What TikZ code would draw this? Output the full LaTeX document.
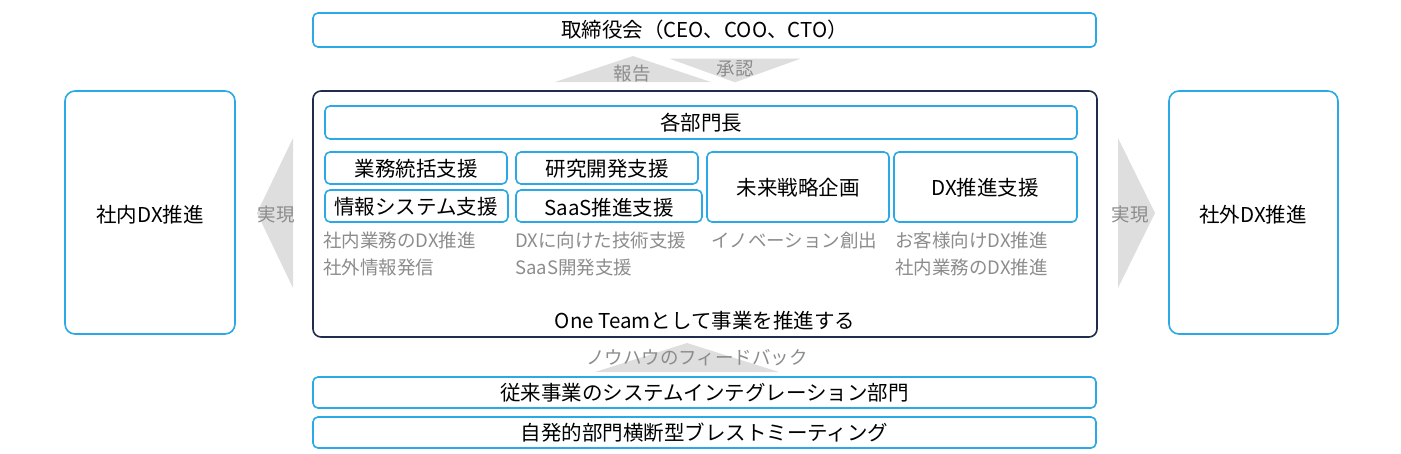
\documentclass[tikz,border=0pt]{standalone}
\usepackage{fontspec}
\setmainfont{Noto Sans CJK JP}
\definecolor{cy}{HTML}{2AA9E6}
\definecolor{nv}{HTML}{1F2D4A}
\begin{document}
\begin{tikzpicture}[x=1pt,y=-1pt,
 cb/.style={draw=cy, line width=1.6pt, rounded corners=5pt, fill=white},
 nb/.style={draw=nv, line width=1.6pt, rounded corners=8pt},
 tx/.style={font=\fontsize{20.5}{24}\selectfont, text=black},
 gl/.style={font=\fontsize{18.5}{22}\selectfont, text=black!45},
 gt/.style={font=\fontsize{18.5}{27}\selectfont, text=black!45, align=left, anchor=north west, inner sep=0pt},
 arr/.style={fill=black!13, draw=none}]
\useasboundingbox (0,0) rectangle (1401,453);
% top
\draw[cb] (313,13) rectangle (1096,47);
\node[tx] (top) at (704.5,30) {取締役会（CEO、COO、CTO）};
\fill[arr] (555,82) -- (633,56) -- (711,82) -- cycle;
\filldraw[arr, draw=white, line width=3pt] (660,57) -- (810,57) -- (735,84) -- cycle;
\node[gl] (rep) at (632,74) {報告};
\node[gl] (app) at (735,69) {承認};
% main
\draw[nb] (313,91) rectangle (1097,337);
\draw[cb] (325,106) rectangle (1077,139);
\node[tx] (heads) at (701,123) {各部門長};
\draw[cb] (325,152) rectangle (507,184); \node[tx] (a1) at (416,169) {業務統括支援};
\draw[cb] (325,190) rectangle (508,222); \node[tx] (a2) at (416,207) {情報システム支援};
\draw[cb] (516,152) rectangle (698,184); \node[tx] (b1) at (607,169) {研究開発支援};
\draw[cb] (516,190) rectangle (702,222); \node[tx] (b2) at (609,208) {SaaS推進支援};
\draw[cb] (707,152) rectangle (889,222); \node[tx] (c1) at (798,188) {未来戦略企画};
\draw[cb] (894,152) rectangle (1077,222); \node[tx] (d1) at (985,188) {DX推進支援};
\node[gt] (ga) at (323,232) {社内業務のDX推進\\社外情報発信};
\node[gt] (gb) at (515,232) {DXに向けた技術支援\\SaaS開発支援};
\node[gt] (gc) at (711,232) {イノベーション創出};
\node[gt] (gd) at (895,232) {お客様向けDX推進\\社内業務のDX推進};
\node[tx] (one) at (705,321) {One Teamとして事業を推進する};
% sides
\draw[cb, rounded corners=10pt] (65,91) rectangle (235,334);
\node[tx] (l) at (150,215) {社内DX推進};
\draw[cb, rounded corners=10pt] (1169,91) rectangle (1338,334);
\node[tx] (r) at (1253,215) {社外DX推進};
\fill[arr] (293,138) -- (257,213) -- (293,288) -- cycle;
\fill[arr] (1118,138) -- (1155,213) -- (1118,288) -- cycle;
\node[gl] (j1) at (276,215) {実現};
\node[gl] (j2) at (1130,215) {実現};
% bottom
\fill[arr] (595,372) -- (687,343) -- (779,372) -- cycle;
\node[gl] (fb) at (697,358) {ノウハウのフィードバック};
\draw[cb] (313,377) rectangle (1096,408); \node[tx] (s1) at (704.5,393) {従来事業のシステムインテグレーション部門};
\draw[cb] (313,417) rectangle (1096,448); \node[tx] (s2) at (704.5,433) {自発的部門横断型ブレストミーティング};
\end{tikzpicture}
\end{document}
